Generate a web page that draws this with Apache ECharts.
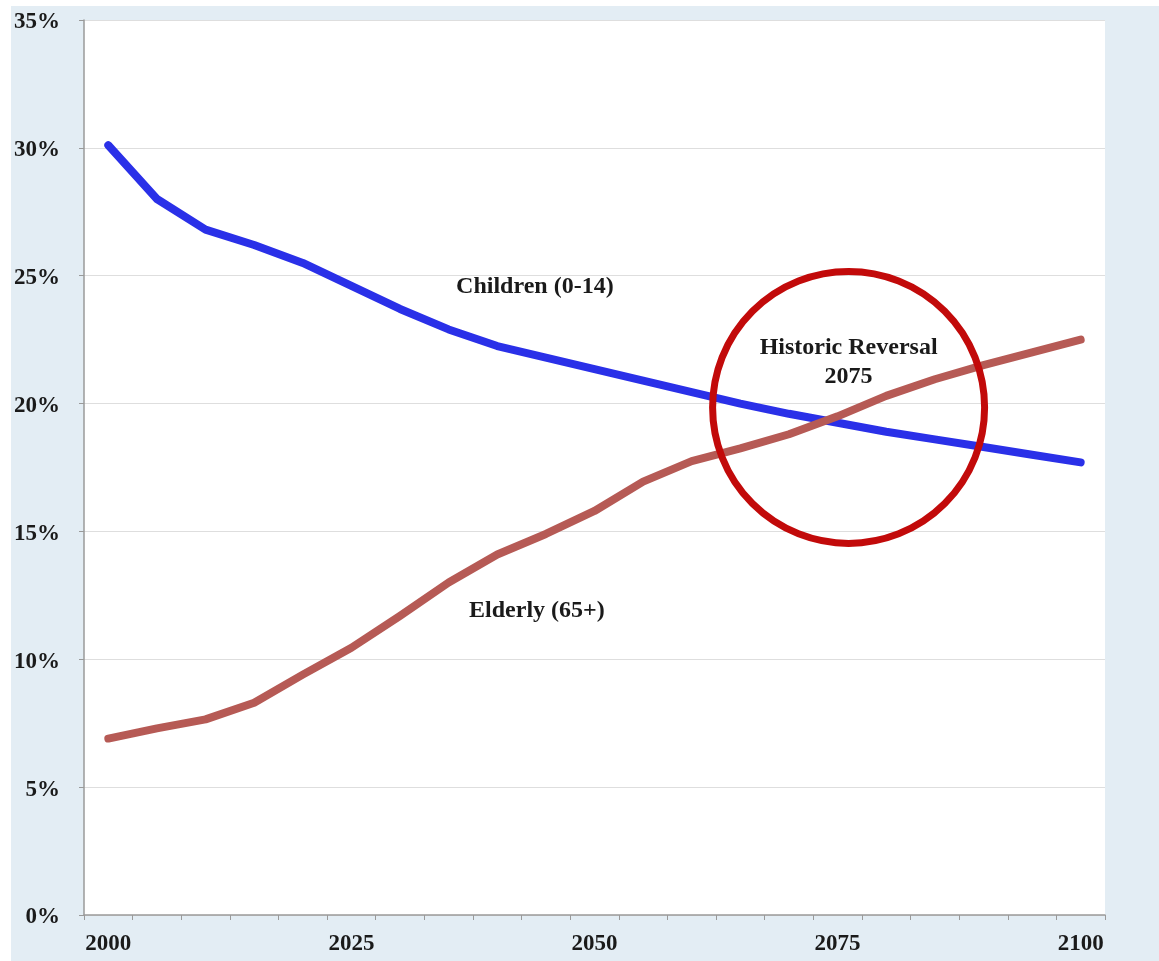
<!DOCTYPE html>
<html>
<head>
<meta charset="utf-8">
<script src="https://cdn.jsdelivr.net/npm/echarts@6/dist/echarts.min.js"></script>
<style>
  html, body { margin: 0; padding: 0; background: #ffffff; }
  #frame { position: absolute; left: 11px; top: 6px; right: 0; bottom: 0; background: #e3edf4; }
  #chart { position: absolute; left: 0; top: 0; width: 1159px; height: 961px; }
</style>
</head>
<body>
<div id="frame"></div>
<div id="chart"></div>
<script>
// Five-year steps from 2000 to 2100
const years = ['2000','2005','2010','2015','2020','2025','2030','2035','2040','2045','2050',
               '2055','2060','2065','2070','2075','2080','2085','2090','2095','2100'];

// Share of population, percent
const children = [30.1, 28.0, 26.8, 26.2, 25.5, 24.6, 23.7, 22.9, 22.25, 21.8, 21.35,
                  20.9, 20.45, 20.0, 19.6, 19.25, 18.9, 18.6, 18.3, 18.0, 17.7];
const elderly  = [6.9, 7.3, 7.65, 8.3, 9.4, 10.45, 11.7, 13.0, 14.1, 14.9, 15.8,
                  16.95, 17.75, 18.25, 18.8, 19.5, 20.3, 20.95, 21.5, 22.0, 22.5];

const yTicks = [0, 5, 10, 15, 20, 25, 30, 35];

// Annotation anchor (year, percent) for the reversal callout
const reversalAt = ['2075', 19.85];

const serif = '"Liberation Serif", "Times New Roman", serif';

const chart = echarts.init(document.getElementById('chart'));

chart.setOption({
  animation: false,
  backgroundColor: 'transparent',
  grid: {
    left: 84, right: 54, top: 20, bottom: 46,
    show: true, backgroundColor: '#ffffff', borderWidth: 0
  },
  xAxis: {
    type: 'category',
    data: years,
    boundaryGap: true,
    axisLine: { lineStyle: { color: '#9a9a9a', width: 1.5 } },
    axisTick: { show: true, length: 5, interval: 0, lineStyle: { color: '#9a9a9a' } },
    axisLabel: {
      interval: 4, margin: 18,
      fontFamily: serif, fontWeight: 'bold', fontSize: 23, color: '#1a1a1a'
    },
    splitLine: { show: false }
  },
  yAxis: {
    type: 'value',
    min: yTicks[0], max: yTicks[yTicks.length - 1], interval: 5,
    axisLine: { show: true, lineStyle: { color: '#9a9a9a', width: 1.5 } },
    axisTick: { show: true, length: 5, lineStyle: { color: '#9a9a9a' } },
    axisLabel: {
      margin: 24,
      formatter: v => '{p|' + v + '%}',
      rich: {
        p: {
          fontFamily: serif, fontWeight: 'bold', fontSize: 23, color: '#1a1a1a',
          padding: [5, 0, 0, 0]
        }
      }
    },
    splitLine: { show: true, lineStyle: { color: '#dedede', width: 1.2 } }
  },
  series: [
    {
      name: 'Children (0-14)',
      type: 'line',
      data: children,
      showSymbol: false,
      lineStyle: { color: '#2a30e8', width: 8, cap: 'round', join: 'round' },
      z: 2
    },
    {
      name: 'Elderly (65+)',
      type: 'line',
      data: elderly,
      showSymbol: false,
      lineStyle: { color: '#b65a55', width: 8, cap: 'round', join: 'round' },
      z: 3
    }
  ]
});

// Text labels and the circled crossover, placed through the axis scales
function place() {
  const grid = { gridIndex: 0 };
  const c = chart.convertToPixel(grid, reversalAt);
  const rad = 136;
  const childLbl = chart.convertToPixel(grid, ['2045', 24.55]);
  const eldLbl = chart.convertToPixel(grid, ['2045', 11.9]);
  const textStyle = (x, y, t) => ({
    type: 'text', x, y,
    style: {
      text: t, fill: '#1a1a1a', font: 'bold 24px ' + serif,
      align: 'center', verticalAlign: 'middle', lineHeight: 29
    },
    z: 10
  });
  chart.setOption({
    graphic: [
      textStyle(childLbl[0] - 11, childLbl[1], 'Children (0-14)'),
      textStyle(eldLbl[0] - 9, eldLbl[1], 'Elderly (65+)'),
      textStyle(c[0] + 11, c[1] - 45, 'Historic Reversal\n2075'),
      {
        type: 'circle',
        shape: { cx: c[0] + 11, cy: c[1], r: rad },
        style: { fill: 'none', stroke: '#c20a0a', lineWidth: 7 },
        z: 11
      }
    ]
  });
}
place();
</script>
</body>
</html>
